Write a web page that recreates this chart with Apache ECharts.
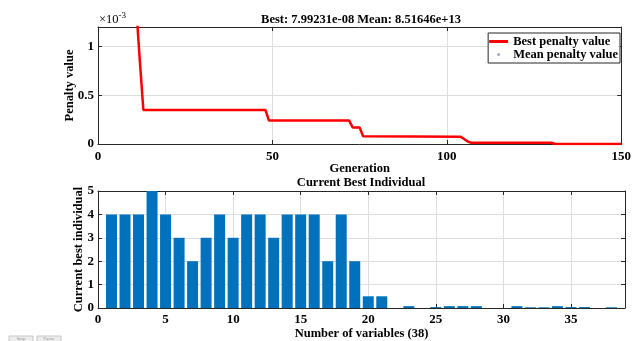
<!DOCTYPE html>
<html>
<head>
<meta charset="utf-8">
<script src="https://cdn.jsdelivr.net/npm/echarts@6/dist/echarts.min.js"></script>
<style>
  html, body { margin: 0; padding: 0; background: #fff; }
  #ga-plot { width: 634px; height: 341px; }
</style>
</head>
<body>
<div id="ga-plot"></div>
<script>
// top plot: best penalty per generation (breakpoints, real units)
const generations = [1, 10, 11, 12, 13, 48, 49, 72, 73, 75, 76, 104, 106, 107, 130, 131, 150];
const bestPenalty = [2.0e-3, 2.0e-3, 1.38e-3, 0.85e-3, 0.35e-3, 0.35e-3, 0.24e-3, 0.24e-3, 0.17e-3,
  0.17e-3, 0.08e-3, 0.075e-3, 0.025e-3, 0.013e-3, 0.013e-3, 7.99231e-8, 7.99231e-8];
// mean penalty is far above the visible range
const meanGenerations = [150];
const meanPenalty = [8.51646e13];

// bottom plot: current best individual, variables 1..38
const variableIndex = [1, 2, 3, 4, 5, 6, 7, 8, 9, 10, 11, 12, 13, 14, 15, 16, 17, 18, 19,
  20, 21, 22, 23, 24, 25, 26, 27, 28, 29, 30, 31, 32, 33, 34, 35, 36, 37, 38];
const bestIndividual = [4, 4, 4, 5, 4, 3, 2, 3, 4, 3, 4, 4, 3, 4, 4, 4, 2, 4, 2,
  0.5, 0.5, 0, 0.08, 0, 0.04, 0.08, 0.08, 0.08, 0, 0, 0.08, 0.03, 0.03, 0.08, 0.04, 0.04, 0, 0.03];

const FONT = "Liberation Serif";
const AXIS_COLOR = "#262626";
const GRID_COLOR = "#dedede";

function boxAxis(gridIndex, position, extra) {
  return Object.assign({
    gridIndex: gridIndex,
    type: "value",
    position: position,
    nameMoveOverlap: false,
    axisLine: { show: true, onZero: false, lineStyle: { color: AXIS_COLOR, width: 1 } },
    axisTick: { show: true, inside: true, length: 4, lineStyle: { color: AXIS_COLOR } },
    axisLabel: { show: false },
    splitLine: { show: false },
  }, extra);
}

const labelStyle = { color: "#000", fontFamily: FONT, fontWeight: "bold", fontSize: 13 };
const nameStyle = { color: "#000", fontFamily: FONT, fontWeight: "bold", fontSize: 12.5 };
const gridLine = { show: true, lineStyle: { color: GRID_COLOR, width: 1 } };

const chart = echarts.init(document.getElementById("ga-plot"));
chart.setOption({
  animation: false,
  backgroundColor: "#fff",
  grid: [
    { left: 98, right: 9, top: 27, height: 117 },
    { left: 98, right: 9, top: 191, height: 117 },
  ],
  legend: {
    orient: "vertical",
    right: 14,
    top: 33,
    itemWidth: 19,
    itemHeight: 3,
    itemGap: 0,
    padding: [2, 2, 2, 1],
    borderColor: AXIS_COLOR,
    borderWidth: 1,
    backgroundColor: "#fff",
    textStyle: { color: "#000", fontFamily: FONT, fontWeight: "bold", fontSize: 12.5, lineHeight: 12 },
    data: [
      { name: "Best penalty value", icon: "rect" },
      { name: "Mean penalty value", icon: "circle", itemStyle: { color: "#8a93b8" } },
    ],
  },
  xAxis: [
    boxAxis(0, "bottom", {
      min: 0, max: 150, interval: 50,
      axisLabel: Object.assign({ show: true, margin: 6 }, labelStyle),
      splitLine: gridLine,
      name: "Generation", nameLocation: "middle", nameGap: 18, nameTextStyle: nameStyle,
    }),
    boxAxis(0, "top", { min: 0, max: 150, interval: 50 }),
    boxAxis(1, "bottom", {
      min: 0, max: 39, interval: 5,
      axisLabel: Object.assign({ show: true, margin: 5, showMaxLabel: false }, labelStyle),
      splitLine: gridLine,
      name: "Number of variables (38)", nameLocation: "middle", nameGap: 19, nameTextStyle: nameStyle,
    }),
    boxAxis(1, "top", { min: 0, max: 39, interval: 5 }),
  ],
  yAxis: [
    boxAxis(0, "left", {
      min: 0, max: 1.2e-3, interval: 0.5e-3,
      axisLabel: Object.assign({
        show: true, margin: 4, showMaxLabel: false,
        formatter: (v) => String(parseFloat((v * 1000).toFixed(3))),
      }, labelStyle),
      splitLine: gridLine,
      name: "Penalty value", nameLocation: "middle", nameGap: 22, nameTextStyle: nameStyle,
    }),
    boxAxis(0, "right", { min: 0, max: 1.2e-3, interval: 0.5e-3 }),
    boxAxis(1, "left", {
      min: 0, max: 5, interval: 1,
      axisLabel: Object.assign({ show: true, margin: 4 }, labelStyle),
      splitLine: gridLine,
      name: "Current best individual", nameLocation: "middle", nameGap: 13, nameTextStyle: nameStyle,
    }),
    boxAxis(1, "right", { min: 0, max: 5, interval: 1 }),
  ],
  series: [
    {
      name: "Best penalty value",
      type: "line",
      xAxisIndex: 0,
      yAxisIndex: 0,
      symbol: "none",
      clip: true,
      lineStyle: { color: "#ff0000", width: 2.5 },
      itemStyle: { color: "#ff0000" },
      data: generations.map((g, i) => [g, bestPenalty[i]]),
    },
    {
      name: "Mean penalty value",
      type: "scatter",
      xAxisIndex: 0,
      yAxisIndex: 0,
      symbolSize: 3,
      clip: true,
      itemStyle: { color: "#0000ff" },
      data: meanGenerations.map((g, i) => [g, meanPenalty[i]]),
    },
    {
      name: "Current best individual",
      type: "bar",
      xAxisIndex: 2,
      yAxisIndex: 2,
      barWidth: 11,
      itemStyle: { color: "#0072BD" },
      data: variableIndex.map((x, i) => [x, bestIndividual[i]]),
    },
  ],
  graphic: [
    {
      type: "text", x: 99, y: 20,
      style: {
        text: "{a|×10}{b|-3}",
        textVerticalAlign: "middle",
        rich: {
          a: { fontFamily: FONT, fontSize: 12.5, fill: "#000" },
          b: { fontFamily: FONT, fontSize: 9, fill: "#000", padding: [0, 0, 8, 0] },
        },
      },
    },
    {
      type: "text", x: 361, y: 20,
      style: {
        text: "Best: 7.99231e-08 Mean: 8.51646e+13",
        textAlign: "center", textVerticalAlign: "middle",
        font: "bold 12.5px " + FONT, fill: "#000",
      },
    },
    {
      type: "text", x: 361, y: 183,
      style: {
        text: "Current Best Individual",
        textAlign: "center", textVerticalAlign: "middle",
        font: "bold 12.5px " + FONT, fill: "#000",
      },
    },
    // leftover Stop / Pause buttons of the GA window
    { type: "rect", shape: { x: 9, y: 336, width: 24, height: 8 }, style: { fill: "#ececec", stroke: "#c8c8c8" } },
    { type: "rect", shape: { x: 37, y: 336, width: 24, height: 8 }, style: { fill: "#ececec", stroke: "#c8c8c8" } },
    { type: "text", x: 21, y: 339, style: { text: "Stop", font: "5px " + FONT, fill: "#999", textAlign: "center", textVerticalAlign: "middle" } },
    { type: "text", x: 49, y: 339, style: { text: "Pause", font: "5px " + FONT, fill: "#999", textAlign: "center", textVerticalAlign: "middle" } },
  ],
});
</script>
</body>
</html>
